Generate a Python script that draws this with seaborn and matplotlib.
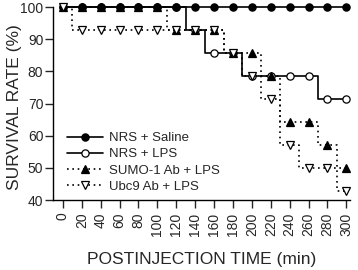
import matplotlib
matplotlib.use("Agg")
import matplotlib.pyplot as plt
import numpy as np
import pandas as pd
import seaborn as sns

# Survival data (minutes, %)
times = list(range(0, 301, 20))
nrs_saline = [100] * 16
nrs_lps = [100, 100, 100, 100, 100, 100, 100, 92.9, 85.7, 85.7,
           78.6, 78.6, 78.6, 78.6, 71.4, 71.4]
sumo1_lps = [100, 100, 100, 100, 100, 100, 92.9, 92.9, 92.9, 85.7,
             85.7, 78.6, 64.3, 64.3, 57.1, 50.0]
ubc9_lps = [100, 92.9, 92.9, 92.9, 92.9, 92.9, 92.9, 92.9, 92.9, 85.7,
            78.6, 71.4, 57.1, 50.0, 50.0, 42.9]

dotted = (0, (1, 2.2))
series = [
    ("NRS + Saline", nrs_saline, "o", "black", "-", 4),
    ("NRS + LPS", nrs_lps, "o", "white", "-", 2),
    ("SUMO-1 Ab + LPS", sumo1_lps, "^", "black", dotted, 3),
    ("Ubc9 Ab + LPS", ubc9_lps, "v", "white", dotted, 5),
]

sns.set_style("ticks")
plt.rcParams["font.family"] = ["Liberation Sans", "DejaVu Sans"]

fig, ax = plt.subplots(figsize=(3.58, 2.70), dpi=100)
fig.subplots_adjust(left=0.148, right=0.978, top=0.974, bottom=0.259)

for name, vals, mk, fc, ls, z in series:
    df = pd.DataFrame({"t": times, "s": vals})
    sns.lineplot(data=df, x="t", y="s", ax=ax, label=name, color="black",
                 linestyle=ls, linewidth=1.2, drawstyle="steps-mid",
                 marker=mk, markersize=5.2, markerfacecolor=fc,
                 markeredgecolor="black", markeredgewidth=0.9,
                 zorder=z, clip_on=False)

ax.set_xlim(-10.5, 304)
ax.set_ylim(40, 100)
ax.set_xticks(times)
ax.set_xticklabels([str(t) for t in times], rotation=90, fontsize=10)
ax.set_yticks(np.arange(40, 101, 10))
ax.tick_params(axis="y", labelsize=10, length=5.5, width=1, pad=1.5)
ax.tick_params(axis="x", length=6, width=1, pad=3)
for sp in ["top", "right"]:
    ax.spines[sp].set_visible(False)
for sp in ["left", "bottom"]:
    ax.spines[sp].set_linewidth(1)
    ax.spines[sp].set_color("black")

ax.set_xlabel("POSTINJECTION TIME (min)", fontsize=12.5)
ax.set_ylabel("SURVIVAL RATE (%)", fontsize=12.5)
ax.xaxis.set_label_coords(0.5, -0.27)
ax.yaxis.set_label_coords(-0.105, 0.48)

leg = ax.legend(loc="lower left", bbox_to_anchor=(0.03, 0.01), frameon=False,
                fontsize=9.5, handlelength=2.7, handletextpad=0.5,
                labelspacing=0.3, borderaxespad=0)

fig.savefig("out.png", dpi=100)
